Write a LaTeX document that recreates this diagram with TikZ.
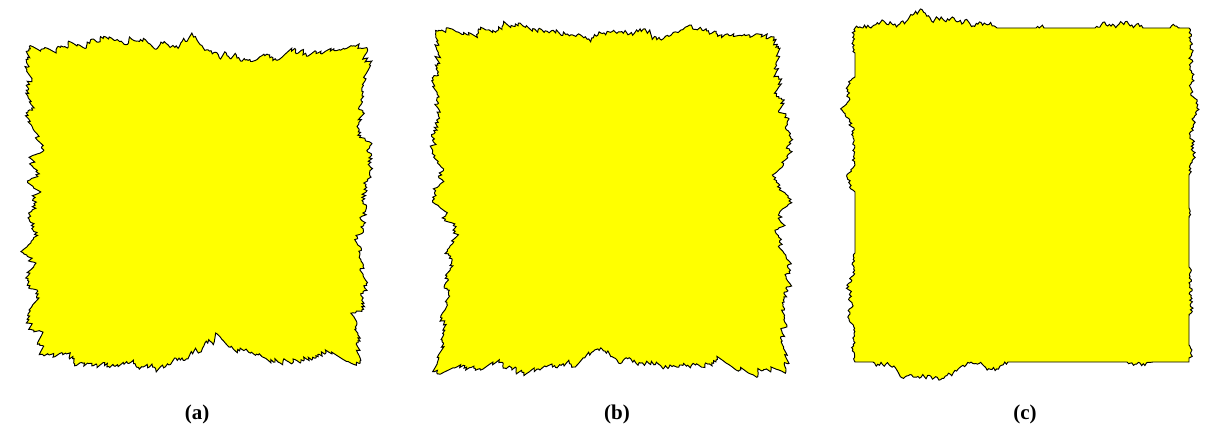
\documentclass[tikz,border=0pt]{standalone}
\usepackage{fontspec}
\setmainfont{Liberation Serif}
\ExplSyntaxOn
\tl_new:N \g_jag_tl
\fp_new:N \g_jag_cx_fp
\fp_new:N \g_jag_cy_fp
\fp_new:N \l_jag_w_fp
\fp_new:N \l_jag_e_fp
\fp_new:N \l_jag_o_fp
\fp_new:N \l_jag_len_fp
\fp_new:N \l_jag_nx_fp
\fp_new:N \l_jag_ny_fp
\fp_new:N \l_jag_wd_fp
\fp_new:N \l_jag_ht_fp
\fp_new:N \l_jag_p_fp
\fp_new:N \l_jag_s_fp
\fp_new:N \l_jag_x_fp
\fp_new:N \l_jag_y_fp
\fp_new:N \l_jag_mx_fp
\fp_new:N \l_jag_my_fp
\fp_new:N \l_jag_d_fp
\int_new:N \l_jag_n_int
% ---- a closed rough rectangle: one mean-reverting random walk round the whole border,
%      each point moved along the ray from the centre (so the outline never crosses itself)
\cs_new_protected:Npn \jag_rect:nnnnnnn #1#2#3#4#5#6#7
  {
    \fp_set:Nn \l_jag_wd_fp {#3-#1}
    \fp_set:Nn \l_jag_ht_fp {#4-#2}
    \fp_set:Nn \l_jag_mx_fp {(#1+#3)/2}
    \fp_set:Nn \l_jag_my_fp {(#2+#4)/2}
    \fp_set:Nn \l_jag_p_fp {2*(\l_jag_wd_fp+\l_jag_ht_fp)}
    \int_set:Nn \l_jag_n_int { \fp_eval:n { round(\l_jag_p_fp/1.6) } }
    \fp_set:Nn \l_jag_w_fp {0}
    \int_step_inline:nn {\l_jag_n_int}
      {
        \fp_set:Nn \l_jag_w_fp { (1-(#6))*\l_jag_w_fp + (2*rand()-1)*(#5) }
        \cs_set:cpx { jag_w_ ##1 : } { \fp_use:N \l_jag_w_fp }
      }
    \fp_set_eq:NN \l_jag_e_fp \l_jag_w_fp
    \tl_gclear:N \g_jag_tl
    \int_step_inline:nnn {0} {\l_jag_n_int - 1}
      {
        \int_compare:nNnTF {##1} = {0}
          { \fp_set:Nn \l_jag_o_fp {0} }
          { \fp_set:Nn \l_jag_o_fp { (\use:c { jag_w_ ##1 : }) - ##1/(\int_use:N \l_jag_n_int) * \l_jag_e_fp } }
        \fp_set:Nn \l_jag_s_fp { ##1*\l_jag_p_fp/(\int_use:N \l_jag_n_int) + (#7)*\l_jag_p_fp }
        \fp_compare:nNnT {\l_jag_s_fp} > {\l_jag_p_fp}
          { \fp_set:Nn \l_jag_s_fp {\l_jag_s_fp - \l_jag_p_fp} }
        \fp_compare:nNnTF {\l_jag_s_fp} < {\l_jag_wd_fp}
          {
            \fp_set:Nn \l_jag_x_fp {#1+\l_jag_s_fp}
            \fp_set:Nn \l_jag_y_fp {#2}
          }
          {
            \fp_compare:nNnTF {\l_jag_s_fp} < {\l_jag_wd_fp+\l_jag_ht_fp}
              {
                \fp_set:Nn \l_jag_x_fp {#3}
                \fp_set:Nn \l_jag_y_fp {#2+\l_jag_s_fp-\l_jag_wd_fp}
              }
              {
                \fp_compare:nNnTF {\l_jag_s_fp} < {2*\l_jag_wd_fp+\l_jag_ht_fp}
                  {
                    \fp_set:Nn \l_jag_x_fp {#3-(\l_jag_s_fp-\l_jag_wd_fp-\l_jag_ht_fp)}
                    \fp_set:Nn \l_jag_y_fp {#4}
                  }
                  {
                    \fp_set:Nn \l_jag_x_fp {#1}
                    \fp_set:Nn \l_jag_y_fp {#4-(\l_jag_s_fp-2*\l_jag_wd_fp-\l_jag_ht_fp)}
                  }
              }
          }
        \fp_set:Nn \l_jag_d_fp
          { sqrt((\l_jag_x_fp-\l_jag_mx_fp)^2+(\l_jag_y_fp-\l_jag_my_fp)^2) }
        \fp_set:Nn \l_jag_x_fp
          { \l_jag_x_fp + \l_jag_o_fp*(\l_jag_x_fp-\l_jag_mx_fp)/\l_jag_d_fp }
        \fp_set:Nn \l_jag_y_fp
          { \l_jag_y_fp + \l_jag_o_fp*(\l_jag_y_fp-\l_jag_my_fp)/\l_jag_d_fp }
        \int_compare:nNnF {##1} = {0} { \tl_gput_right:Nn \g_jag_tl { -- } }
        \tl_gput_right:Nx \g_jag_tl
          { (\fp_eval:n{round(\l_jag_x_fp,2)},\fp_eval:n{round(\l_jag_y_fp,2)}) }
      }
  }
% ---- open pieces for a rectangle with rough parts only
\cs_new_protected:Npn \jag_start:nn #1#2
  {
    \fp_gset:Nn \g_jag_cx_fp {#1}
    \fp_gset:Nn \g_jag_cy_fp {#2}
    \tl_gset:Nx \g_jag_tl { (\fp_eval:n{#1},\fp_eval:n{#2}) }
  }
\cs_new_protected:Npn \jag_seg:nnnn #1#2#3#4
  {
    \fp_set:Nn \l_jag_len_fp { sqrt((#1-\g_jag_cx_fp)^2+(#2-\g_jag_cy_fp)^2) }
    \int_compare:nNnTF {#4} = {2}
      { \tl_gput_right:Nx \g_jag_tl { --(\fp_eval:n{#1},\fp_eval:n{#2}) } }
      {
        \int_set:Nn \l_jag_n_int { \fp_eval:n { max(2, round(\l_jag_len_fp/1.6)) } }
        \fp_set:Nn \l_jag_nx_fp { (#2-\g_jag_cy_fp)/\l_jag_len_fp }
        \fp_set:Nn \l_jag_ny_fp { -(#1-\g_jag_cx_fp)/\l_jag_len_fp }
        \fp_set:Nn \l_jag_w_fp {0}
        \int_step_inline:nn {\l_jag_n_int}
          {
            \fp_set:Nn \l_jag_w_fp { \l_jag_w_fp + (2*rand()-1)*(#3) }
            \cs_set:cpx { jag_w_ ##1 : } { \fp_use:N \l_jag_w_fp }
          }
        \fp_set_eq:NN \l_jag_e_fp \l_jag_w_fp
        \int_step_inline:nn {\l_jag_n_int}
          {
            \fp_set:Nn \l_jag_o_fp { (\use:c { jag_w_ ##1 : }) - ##1/(\int_use:N \l_jag_n_int) * \l_jag_e_fp }
            \int_compare:nNnT {#4} = {1} { \fp_set:Nn \l_jag_o_fp { abs(\l_jag_o_fp) } }
            \tl_gput_right:Nx \g_jag_tl
              { --( \fp_eval:n { round(\g_jag_cx_fp + (#1-\g_jag_cx_fp)*##1/(\int_use:N \l_jag_n_int) + \l_jag_nx_fp*\l_jag_o_fp, 2) },
                    \fp_eval:n { round(\g_jag_cy_fp + (#2-\g_jag_cy_fp)*##1/(\int_use:N \l_jag_n_int) + \l_jag_ny_fp*\l_jag_o_fp, 2) } ) }
          }
      }
    \fp_gset:Nn \g_jag_cx_fp {#1}
    \fp_gset:Nn \g_jag_cy_fp {#2}
  }
\NewDocumentCommand \jagrect {mmmmmmm} { \jag_rect:nnnnnnn {#1}{#2}{#3}{#4}{#5}{#6}{#7} }
\NewDocumentCommand \jagstart {mm} { \jag_start:nn {#1}{#2} }
\NewDocumentCommand \jagseg {mmmm} { \jag_seg:nnnn {#1}{#2}{#3}{#4} }
\NewDocumentCommand \jagseed {m} { \sys_gset_rand_seed:n {#1} }
\NewDocumentCommand \jagdraw {m}
  { \use:x { \exp_not:N \draw [\exp_not:n {#1}] \exp_not:V \g_jag_tl -- cycle ; } }
\ExplSyntaxOff
\definecolor{shapeyellow}{RGB}{255,255,0}
\tikzset{
  jagshape/.style={fill=shapeyellow, draw=black, line width=0.95pt, line join=miter, miter limit=3},
  sublabel/.style={font=\bfseries\fontsize{21}{25}\selectfont, inner sep=0pt}
}
\begin{document}
\begin{tikzpicture}[x=1pt,y=-1pt]
\useasboundingbox (0,0) rectangle (1210,430);
% (a)
\jagseed{17}
\jagrect{28}{46}{366}{369}{3.7}{0.04}{0.87}
\jagdraw{jagshape}
% (b)
\jagseed{29}
\jagrect{441}{34}{781}{365}{3.5}{0.05}{0.87}
\jagdraw{jagshape}
% (c)
\jagseed{43}
\jagstart{855}{28}
\jagseg{997}{28}{3.4}{1}
\jagseg{1036}{28}{0}{2}
\jagseg{1044}{28}{2.5}{1}
\jagseg{1095}{28}{0}{2}
\jagseg{1143}{28}{3.2}{1}
\jagseg{1170}{28}{0}{2}
\jagseg{1180}{28}{2.5}{1}
\jagseg{1189}{28}{0}{2}
\jagseg{1189}{175}{2.8}{1}
\jagseg{1189}{208}{0}{2}
\jagseg{1189}{218}{2.5}{1}
\jagseg{1189}{267}{0}{2}
\jagseg{1189}{316}{2.8}{1}
\jagseg{1189}{345}{0}{2}
\jagseg{1189}{358}{2.5}{1}
\jagseg{1189}{362}{0}{2}
\jagseg{1153}{362}{0}{2}
\jagseg{1127}{362}{3.0}{1}
\jagseg{1008}{362}{0}{2}
\jagseg{873}{362}{3.4}{1}
\jagseg{855}{362}{0}{2}
\jagseg{855}{253}{2.8}{1}
\jagseg{855}{192}{0}{2}
\jagseg{855}{77}{2.8}{1}
\jagseg{855}{53}{0}{2}
\jagseg{855}{28}{2.6}{1}
\jagdraw{jagshape}
% labels
\node[sublabel] (la) at (197,414) {(a)};
\node[sublabel] (lb) at (617,414) {(b)};
\node[sublabel] (lc) at (1025,414) {(c)};
\end{tikzpicture}
\end{document}
